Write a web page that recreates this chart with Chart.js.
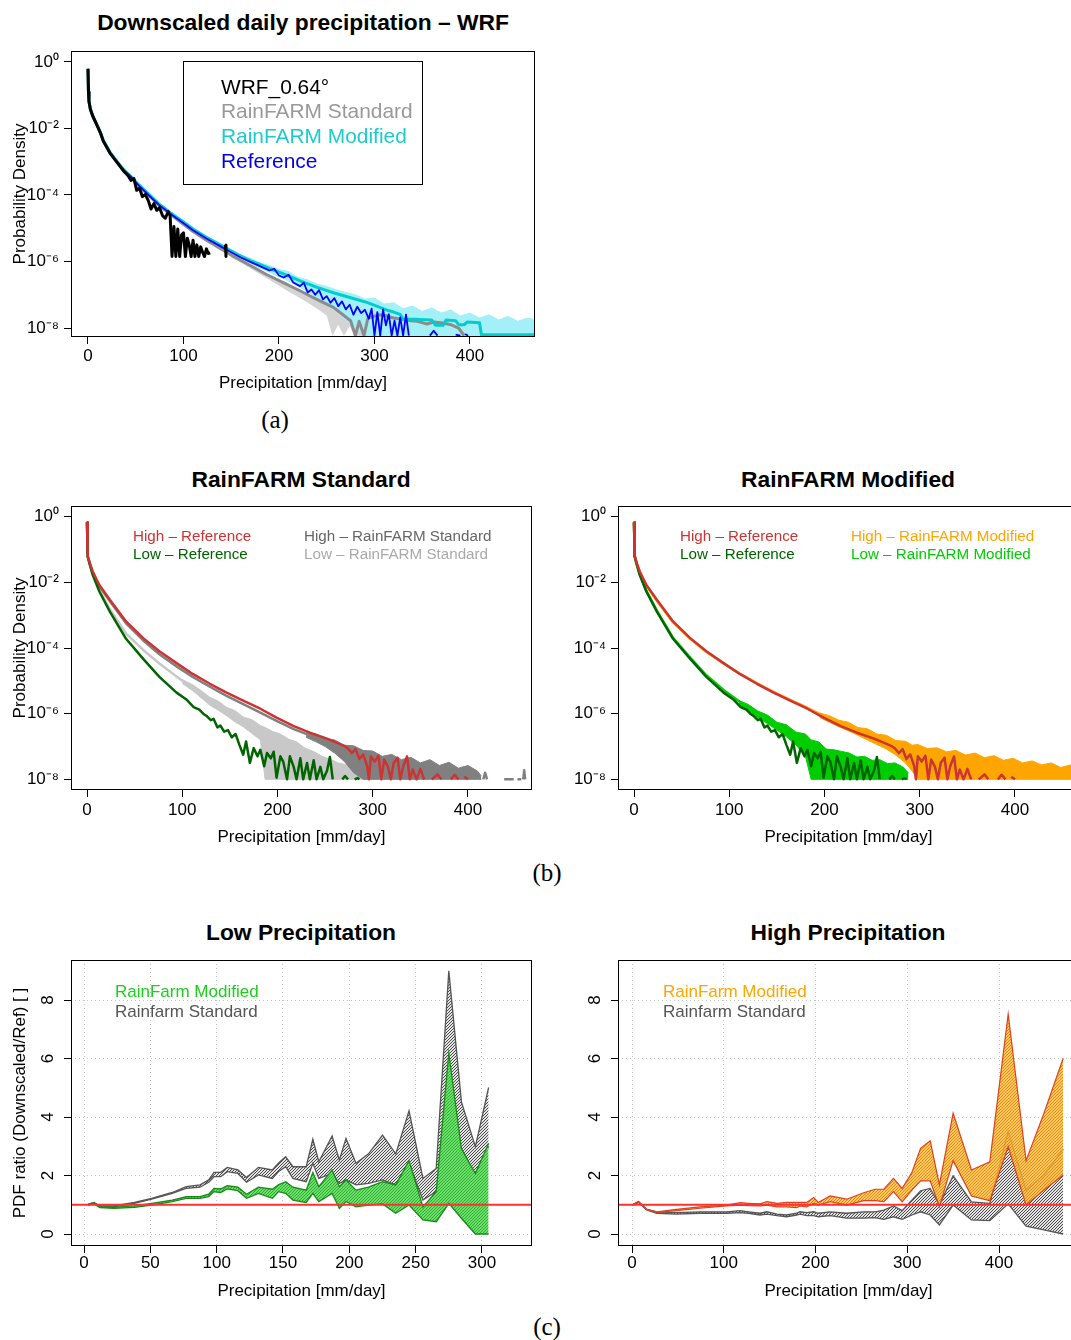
<!DOCTYPE html>
<html><head><meta charset="utf-8">
<script src="https://cdn.jsdelivr.net/npm/chart.js@4.4.1/dist/chart.umd.min.js"></script>
<style>
html,body{margin:0;padding:0;width:1071px;height:1340px;overflow:hidden;background:#fff;font-family:"Liberation Sans",Arial,sans-serif;}
canvas{position:absolute;}
.c{position:absolute;white-space:nowrap;transform:translate(-50%,-50%);}
.l{position:absolute;white-space:nowrap;transform:translateY(-50%);}
.ttl{font-weight:bold;font-size:22.8px;}
.cap{font-family:"Liberation Serif",serif;font-size:25px;}
.lg20{font-size:20.9px;} .lg15{font-size:15.2px;} .lg17{font-size:17px;}
#abox{position:absolute;left:183px;top:61px;width:238px;height:122px;border:1px solid #000;}
</style></head><body>
<canvas id="pa"></canvas><canvas id="pbl"></canvas><canvas id="pbr"></canvas><canvas id="pcl"></canvas><canvas id="pcr"></canvas>

<div class="c ttl" style="left:303px;top:22px">Downscaled daily precipitation – WRF</div>
<div id="abox"></div>
<div class="l lg20" style="left:221px;top:87px;color:#000">WRF_0.64°</div>
<div class="l lg20" style="left:221px;top:111px;color:#999">RainFARM Standard</div>
<div class="l lg20" style="left:221px;top:136px;color:#1ccccc">RainFARM Modified</div>
<div class="l lg20" style="left:221px;top:161px;color:#0000ee">Reference</div>
<div class="c cap" style="left:275px;top:420px">(a)</div>

<div class="c ttl" style="left:301px;top:479px">RainFARM Standard</div>
<div class="c ttl" style="left:848px;top:479px">RainFARM Modified</div>
<div class="l lg15" style="left:133px;top:535px;color:#cd3333">High – Reference</div>
<div class="l lg15" style="left:133px;top:553px;color:#006400">Low – Reference</div>
<div class="l lg15" style="left:304px;top:535px;color:#666">High – RainFARM Standard</div>
<div class="l lg15" style="left:304px;top:553px;color:#aaa">Low – RainFARM Standard</div>
<div class="l lg15" style="left:680px;top:535px;color:#cd3333">High – Reference</div>
<div class="l lg15" style="left:680px;top:553px;color:#006400">Low – Reference</div>
<div class="l lg15" style="left:851px;top:535px;color:#ffa500">High – RainFARM Modified</div>
<div class="l lg15" style="left:851px;top:553px;color:#00cd00">Low – RainFARM Modified</div>
<div class="c cap" style="left:547px;top:873px">(b)</div>

<div class="c ttl" style="left:301px;top:932px">Low Precipitation</div>
<div class="c ttl" style="left:848px;top:932px">High Precipitation</div>
<div class="l lg17" style="left:115px;top:992px;color:#1ccf1c">RainFarm Modified</div>
<div class="l lg17" style="left:115px;top:1012px;color:#555">Rainfarm Standard</div>
<div class="l lg17" style="left:663px;top:992px;color:#ffa500">RainFarm Modified</div>
<div class="l lg17" style="left:663px;top:1012px;color:#555">Rainfarm Standard</div>
<div class="c cap" style="left:547px;top:1327px">(c)</div>

<script>
// ---- panel (a): [mm/day, log10 density] ----
const aWrf = [[0,-0.2],[0.5,-0.9],[1,-1.18],[2.5,-1.42],[5,-1.63],[9,-1.88],[13,-2.13],[16,-2.38],[23,-2.74],[31,-3.04],[38,-3.3],[42,-3.42],[45,-3.56],[48,-3.5],[51,-3.86],[54,-3.8],[57,-4.05],[60,-3.98],[63,-4.16],[66,-4.42],[69,-4.26],[72,-4.46],[75,-4.38],[78,-4.62],[81,-4.7],[84,-4.5],[86,-4.62],[88,-5.85],[90,-4.95],[92,-5.85],[94,-5.02],[96,-5.85],[98,-5.2],[100,-5.14],[102,-5.85],[104,-5.3],[106,-5.5],[108,-5.85],[110,-5.36],[112,-5.85],[114,-5.5],[116,-5.85],[118,-5.56],[120,-5.72],[122,-5.85],[124,-5.62],[126,-5.76],[128,-5.74],[130,null],[144,-5.5],[144.5,-5.85]];
const aRef = [[0,-0.22],[0.5,-0.9],[1,-1.18],[2.5,-1.42],[5,-1.63],[9,-1.88],[13,-2.13],[16,-2.36],[23,-2.72],[31,-3.03],[38,-3.27],[45,-3.45],[52,-3.68],[63,-3.99],[74,-4.29],[88,-4.6],[99,-4.83],[110,-5.06],[124,-5.31],[138,-5.53],[146,-5.66],[160,-5.88],[170,-6.01],[180,-6.14],[190,-6.27],[195,-6.22],[200,-6.42],[205,-6.48],[210,-6.4],[215,-6.63],[222,-6.74],[226,-6.64],[230,-6.93],[234,-6.84],[238,-7.0],[242,-6.86],[246,-7.14],[250,-7.04],[254,-7.24],[258,-7.1],[262,-7.34],[266,-7.2],[270,-7.44],[274,-7.3],[278,-7.6],[282,-7.36],[286,-7.55],[290,-7.45],[294,-7.72],[297,-7.42],[300,-8.23],[303,-7.52],[306,-8.23],[309,-7.44],[312,-7.92],[315,-7.58],[318,-8.23],[321,-7.78],[324,-8.23],[327,-7.68],[330,-8.23],[333,-7.6],[336,-8.23],[340,null],[358,-8.23],[362,-8.08],[366,-8.23],[370,null],[385,-8.2],[390,-8.23],[392,null],[395,-8.18],[398,-8.23]];
const aMod = [[0,-0.22],[0.5,-0.9],[1,-1.18],[2.5,-1.42],[5,-1.62],[9,-1.87],[13,-2.12],[16,-2.35],[23,-2.71],[31,-3.01],[38,-3.26],[45,-3.45],[52,-3.66],[63,-3.96],[74,-4.26],[88,-4.57],[99,-4.79],[110,-5.02],[124,-5.27],[138,-5.49],[146,-5.62],[160,-5.84],[170,-5.97],[180,-6.09],[190,-6.21],[200,-6.32],[210,-6.43],[222,-6.58],[240,-6.78],[257,-6.94],[275,-7.09],[292,-7.23],[303,-7.35],[313,-7.46],[320,-7.52],[327,-7.59],[330,-7.74],[345,-7.74],[360,-7.76],[364,-7.92],[372,-7.92],[375,-7.76],[385,-7.78],[388,-7.9],[394,-7.9],[397,-7.82],[410,-7.84],[412,-8.2],[470,-8.2]];
// noise envelopes [mm/day, low, high]
const aModBand = [[160,-5.9,-5.8],[170,-6.05,-5.9],[180,-6.2,-6.04],[190,-6.32,-6.12],[200,-6.45,-6.24],[210,-6.58,-6.3],[220,-6.75,-6.48],[230,-6.9,-6.55],[240,-7.1,-6.68],[250,-7.3,-6.75],[260,-7.5,-6.85],[270,-7.75,-6.93],[280,-8.0,-7.0],[290,-8.23,-7.13],[300,-8.23,-7.1],[310,-8.23,-7.28],[320,-8.23,-7.24],[330,-8.23,-7.42],[340,-8.23,-7.34],[350,-8.23,-7.5],[360,-8.23,-7.4],[370,-8.23,-7.55],[380,-8.23,-7.46],[390,-8.23,-7.64],[400,-8.23,-7.55],[410,-8.23,-7.7],[420,-8.23,-7.6],[430,-8.23,-7.76],[440,-8.23,-7.65],[450,-8.23,-7.8],[460,-8.23,-7.7],[470,-8.23,-7.76]];
const aStd = [[0,-0.22],[0.5,-0.9],[1,-1.18],[2.5,-1.42],[5,-1.63],[9,-1.88],[13,-2.13],[16,-2.37],[23,-2.73],[31,-3.03],[38,-3.28],[45,-3.47],[52,-3.69],[63,-4.0],[74,-4.3],[88,-4.62],[99,-4.86],[110,-5.1],[124,-5.36],[138,-5.6],[152,-5.84],[170,-6.12],[187,-6.39],[205,-6.64],[222,-6.88],[239,-7.13],[257,-7.38],[267,-7.6],[275,-7.78],[280,-8.23],[284,-7.8],[289,-8.23],[293,-7.72],[298,-7.66],[305,-7.6],[312,-7.63],[320,-7.7],[330,-7.74],[338,-7.78],[345,-7.8],[355,-7.88],[362,-7.82],[372,-7.85],[380,-7.9],[388,-8.0],[394,-8.23]];
const aStdBand = [[150,-5.88,-5.8],[165,-6.12,-6.04],[180,-6.38,-6.28],[195,-6.64,-6.5],[210,-6.9,-6.72],[225,-7.15,-6.94],[240,-7.42,-7.16],[250,-7.62,-7.3],[256,-8.23,-7.4],[262,-7.9,-7.5],[268,-8.23,-7.62],[274,-7.95,-7.72],[280,-8.23,-7.8],[290,-8.23,-7.86],[300,-8.23,-7.92]];

// ---- panel (b): [mm/day, log10 density] ----
const bHighRef = [[0,-0.18],[0.5,-0.9],[1,-1.2],[3,-1.42],[6,-1.67],[13,-2.08],[24,-2.53],[41,-3.19],[59,-3.7],[76,-4.1],[94,-4.46],[111,-4.79],[129,-5.09],[146,-5.35],[164,-5.6],[182,-5.85],[199,-6.12],[217,-6.38],[234,-6.58],[252,-6.76],[262,-6.88],[270,-6.98],[274,-7.06],[278,-7.2],[282,-7.08],[286,-7.38],[290,-7.24],[294,-7.58],[296,-8],[298,-7.3],[302,-7.46],[306,-7.28],[309,-8],[312,-7.4],[316,-7.62],[319,-8],[322,-7.5],[326,-7.34],[329,-8],[332,-7.6],[336,-7.3],[339,-8],[342,-7.7],[346,-8],[350,-7.68],[354,-8],[358,null],[362,-8],[368,-7.85],[372,-8],[376,null],[382,-8],[386,-7.86],[390,-8],[393,null],[396,-7.92],[400,-8]];
const bLowRef = [[0,-0.18],[0.5,-0.9],[1,-1.22],[3,-1.47],[6,-1.77],[13,-2.28],[24,-2.89],[41,-3.72],[59,-4.33],[76,-4.88],[94,-5.36],[104,-5.56],[112,-5.8],[118,-5.88],[122,-6.0],[126,-6.08],[130,-6.2],[133,-6.16],[137,-6.42],[140,-6.36],[144,-6.55],[148,-6.5],[152,-6.72],[156,-6.62],[160,-6.95],[164,-7.25],[167,-6.85],[171,-7.5],[175,-7.05],[179,-7.3],[182,-7.1],[186,-7.6],[189,-7.2],[193,-7.36],[196,-7.16],[199,-7.95],[203,-7.3],[206,-7.46],[210,-8],[213,-7.3],[217,-7.62],[220,-8],[224,-7.36],[227,-8],[231,-7.5],[234,-8],[238,-7.42],[241,-8],[245,-7.62],[248,-8],[252,-7.74],[255,-7.32],[258,-8],[262,null],[268,-8],[271,-7.9],[274,-8],[277,null],[281,-8],[284,-7.96],[286,-8]];
const bHighStd = [[0,-0.18],[0.5,-0.9],[1,-1.2],[3,-1.43],[6,-1.69],[13,-2.12],[24,-2.58],[41,-3.25],[59,-3.77],[76,-4.19],[94,-4.56],[111,-4.88],[129,-5.18],[146,-5.45],[164,-5.71],[182,-5.97],[199,-6.22],[217,-6.47],[234,-6.66],[252,-6.85],[270,-7.02],[278,-7.1],[282,null],[416,-8],[418,-7.8],[420,-8],[422,null],[438,-8],[448,-8],[450,null],[452,-8],[456,-8],[457,null],[458,-8],[459,-7.72],[460,-8]];
const bHighStdBand = [[230,-6.72,-6.58],[240,-6.85,-6.62],[250,-7.0,-6.76],[260,-7.2,-6.8],[270,-7.45,-6.96],[280,-7.8,-6.98],[290,-8,-7.12],[300,-8,-7.14],[310,-8,-7.3],[320,-8,-7.24],[330,-8,-7.4],[340,-8,-7.33],[350,-8,-7.5],[360,-8,-7.4],[370,-8,-7.58],[380,-8,-7.48],[390,-8,-7.66],[400,-8,-7.58],[410,-8,-7.75],[414,-8,-7.9]];
const bLowStd = [[0,-0.18],[0.5,-0.9],[1,-1.22],[3,-1.46],[6,-1.75],[13,-2.24],[24,-2.82],[41,-3.56],[59,-4.06],[76,-4.47],[94,-4.87],[105,-5.1]];
const bLowStdBand = [[100,-5.08,-4.96],[111,-5.3,-5.12],[120,-5.52,-5.3],[129,-5.74,-5.5],[138,-5.9,-5.62],[146,-6.05,-5.8],[155,-6.24,-5.9],[164,-6.4,-6.1],[173,-6.6,-6.18],[182,-6.8,-6.36],[187,-8,-6.42],[195,-8,-6.54],[203,-8,-6.62],[212,-8,-6.78],[220,-8,-6.86],[229,-8,-7.05],[238,-8,-7.15],[247,-8,-7.3],[255,-8,-7.38],[264,-8,-7.5],[273,-8,-7.56],[282,-8,-7.7],[290,-8,-7.78],[296,-8,-7.92]];
const bHighMod = [[0,-0.18],[0.5,-0.9],[1,-1.2],[3,-1.42],[6,-1.68],[13,-2.1],[24,-2.56],[41,-3.22],[59,-3.72],[76,-4.12],[94,-4.47],[111,-4.78],[129,-5.07],[146,-5.33],[164,-5.58],[182,-5.82],[199,-6.07],[210,-6.2]];
const bHighModBand = [[195,-6.12,-5.98],[205,-6.26,-6.06],[215,-6.4,-6.2],[225,-6.52,-6.26],[235,-6.66,-6.42],[245,-6.8,-6.46],[255,-6.94,-6.62],[265,-7.08,-6.66],[275,-7.26,-6.82],[285,-7.5,-6.84],[292,-7.75,-6.96],[298,-8,-6.94],[308,-8,-7.06],[318,-8,-7.04],[328,-8,-7.16],[338,-8,-7.12],[348,-8,-7.26],[358,-8,-7.2],[368,-8,-7.34],[378,-8,-7.28],[388,-8,-7.42],[398,-8,-7.36],[408,-8,-7.5],[418,-8,-7.44],[428,-8,-7.56],[438,-8,-7.5],[448,-8,-7.64],[458,-8,-7.56],[468,-8,-7.66],[478,-8,-7.6]];
const bLowMod = [[0,-0.18],[0.5,-0.9],[1,-1.22],[3,-1.46],[6,-1.76],[13,-2.26],[24,-2.86],[41,-3.69],[59,-4.29],[76,-4.83],[94,-5.28],[111,-5.64],[118,-5.76]];
const bLowModBand = [[110,-5.72,-5.6],[120,-5.9,-5.72],[130,-6.12,-5.92],[140,-6.3,-6.04],[150,-6.5,-6.26],[160,-6.7,-6.34],[170,-6.95,-6.56],[180,-7.3,-6.62],[186,-8,-6.8],[194,-8,-6.86],[202,-8,-7.08],[210,-8,-7.1],[218,-8,-7.15],[226,-8,-7.2],[234,-8,-7.32],[242,-8,-7.3],[250,-8,-7.42],[258,-8,-7.4],[266,-8,-7.52],[274,-8,-7.5],[282,-8,-7.62],[288,-8,-7.8]];

// ---- panel (c): PDF ratio bands ----
const cLowX     = [3,7.5,12,22.5,38,51,66.5,77,87.5,94,98,103,108,116,122.5,131.5,142,146.5,152,157.5,167.5,172.5,177,187,192.5,197.5,205,214.5,225,235,245,255.5,265.5,275,284.5,295,305];
const cLowStdHi = [1.01,1.08,0.96,0.96,1.08,1.22,1.42,1.62,1.68,1.85,2.11,2.11,2.28,2.19,1.93,2.28,2.19,2.42,2.64,2.30,2.30,3.24,2.47,3.35,2.53,3.27,2.42,2.74,3.38,2.74,4.21,1.90,2.24,9.00,4.52,2.99,5.01];
const cLowStdLo = [0.99,1.05,0.93,0.93,1.05,1.19,1.39,1.56,1.60,1.77,1.96,1.96,2.13,2.07,1.77,2.02,1.90,2.13,2.30,1.90,1.79,2.42,1.90,2.07,1.73,1.85,1.68,1.73,1.85,1.68,2.42,1.16,1.45,2.99,2.53,2.07,2.99];
const cLowModHi = [1.01,1.07,0.93,0.91,0.96,1.05,1.16,1.28,1.28,1.36,1.56,1.54,1.65,1.60,1.36,1.60,1.53,1.68,1.79,1.60,1.50,2.10,1.62,2.19,1.62,1.85,1.50,1.60,1.79,1.68,2.51,0.93,1.45,6.18,2.91,2.07,3.10];
const cLowModLo = [0.99,1.03,0.90,0.88,0.91,0.99,1.11,1.22,1.22,1.28,1.45,1.42,1.54,1.48,1.22,1.39,1.22,1.45,1.39,1.16,1.08,1.39,1.11,1.39,0.88,1.11,0.93,0.99,1.03,0.71,0.99,0.48,0.42,1.05,0.54,0,0];
const cHighX     = [0,7,16,27,48.5,74,103,118,127,139.5,147,158,168.5,179.5,183,190.5,198,203,216,234,252.5,265,274.5,285,294.5,305,314.5,325,335,350,370,390,410,429.5,449,470];
const cHighModHi = [0.99,1.11,0.84,0.76,0.84,0.93,0.99,1.07,1.05,1.03,1.11,1.05,1.08,1.08,1.08,1.08,1.25,1.08,1.30,1.19,1.41,1.53,1.53,1.90,1.56,2.10,2.93,3.19,1.68,4.13,2.19,2.47,7.52,2.51,4.13,6.01];
const cHighModLo = [0.99,1.11,0.84,0.74,0.80,0.88,0.96,0.99,0.97,0.96,0.99,0.93,0.93,0.90,0.96,0.93,1.05,0.99,1.11,0.99,1.14,1.14,1.11,1.45,1.10,1.50,1.82,1.82,0.93,2.51,1.30,1.14,2.99,0.99,1.50,2.02];
const cHighStdHi = [0.99,1.10,0.84,0.76,0.73,0.76,0.76,0.80,0.76,0.71,0.76,0.68,0.65,0.71,0.76,0.73,0.76,0.71,0.76,0.71,0.76,0.76,0.82,0.96,0.80,1.16,1.48,1.56,0.99,1.99,1.10,1.05,3.50,1.50,2.02,2.90];
const cHighStdLo = [0.99,1.08,0.82,0.71,0.68,0.71,0.71,0.73,0.71,0.65,0.68,0.63,0.59,0.65,0.68,0.63,0.63,0.59,0.63,0.54,0.54,0.56,0.50,0.59,0.50,0.65,0.76,0.65,0.31,0.99,0.48,0.46,1.03,0.27,0.14,0];
const ratioRef = [1];

const logTicks = [1, 1e-2, 1e-4, 1e-6, 1e-8];
const precipTicks = [0, 100, 200, 300, 400];
const lowPrecipTicks = [0, 50, 100, 150, 200, 250, 300];
const ratioTicks = [0, 2, 4, 6, 8];

const FONT = '"Liberation Sans", Arial, sans-serif';
const FS = 17, LH = FS * 1.2;
const PAD_L = 75, PAD_T = 5, PAD_R = 5, PAD_B = 65;
const SUP = {'0':'⁰','1':'¹','2':'²','3':'³','4':'⁴','5':'⁵','6':'⁶','7':'⁷','8':'⁸','9':'⁹','-':'⁻'};

function pts(arr){ return arr.map(p => ({x:p[0], y: p[1]==null ? null : Math.pow(10,p[1])})); }
function env(arr, k){ return arr.map(p => ({x:p[0], y: Math.pow(10,p[k])})); }
function xy(xs, ys){ return xs.map((x,i) => ({x, y: ys[i]})); }

function line(data, color, w, order){
  return {data, borderColor:color, borderWidth:w, pointRadius:0, fill:false, tension:0, order, spanGaps:false, borderJoinStyle:'round'};
}
function band(lo, hi, fillCol, edge, edgeW, order){
  return [
    {data:lo, borderColor:edge, borderWidth:edgeW, pointRadius:0, fill:false, tension:0, order},
    {data:hi, borderColor:edge, borderWidth:edgeW, pointRadius:0, fill:'-1', backgroundColor:fillCol, tension:0, order}
  ];
}
function hatch(bg, fg, gap){
  const c = document.createElement('canvas'); c.width = c.height = gap;
  const g = c.getContext('2d');
  g.fillStyle = bg; g.fillRect(0,0,gap,gap);
  g.strokeStyle = fg; g.lineWidth = 1;
  g.beginPath();
  g.moveTo(0,gap); g.lineTo(gap,0);
  g.moveTo(-1,1); g.lineTo(1,-1);
  g.moveTo(gap-1,gap+1); g.lineTo(gap+1,gap-1);
  g.stroke();
  return g.createPattern(c,'repeat');
}

const boxPlugin = { id:'box', afterDraw(chart){
  const a = chart.chartArea, c = chart.ctx;
  c.save(); c.strokeStyle = '#000'; c.lineWidth = 1;
  c.strokeRect(Math.round(a.left)+0.5, Math.round(a.top)+0.5, Math.round(a.right-a.left)-1, Math.round(a.bottom-a.top)-1);
  c.restore();
}};

function fixSize(s, prop, v){
  s[prop] = v;
  s.paddingTop = 0; s.paddingBottom = 0; s.paddingLeft = 0; s.paddingRight = 0;
}

function panel(id, box, o){
  const cv = document.getElementById(id);
  const w = box.r - box.l + PAD_L + PAD_R, h = box.b - box.t + PAD_T + PAD_B;
  cv.width = w; cv.height = h;
  cv.style.left = (box.l - PAD_L) + 'px'; cv.style.top = (box.t - PAD_T) + 'px';
  const tickFont = {family:FONT, size:FS};
  const grid = o.dotted
    ? {display:true, drawOnChartArea:true, drawTicks:true, tickLength:7, color:'#c4c4c4', tickColor:'#000', lineWidth:1}
    : {display:true, drawOnChartArea:false, drawTicks:true, tickLength:7, color:'#000', lineWidth:1};
  const yTicks = o.log
    ? {font:tickFont, color:'#000', padding:5, callback: v => '10' + String(Math.round(Math.log10(v))).split('').map(ch => SUP[ch]).join('')}
    : {font:tickFont, color:'#000', padding:11, minRotation:90, maxRotation:90, crossAlign:'center'};
  const y = {
    type: o.log ? 'logarithmic' : 'linear', min:o.yMin, max:o.yMax,
    afterBuildTicks: s => { s.ticks = o.yTicks.map(v => ({value:v})); },
    afterFit: s => fixSize(s, 'width', PAD_L),
    grid, border:{display:false, dash: o.dotted ? [1,3] : []}, ticks:yTicks,
    title:{display: !!o.yTitle, text:o.yTitle || '', color:'#000', font:{family:FONT, size:FS},
           padding:{top: 20 - (box.l - PAD_L) - LH/2, bottom:0}}
  };
  const x = {
    type:'linear', min:o.xMin, max:o.xMax,
    afterBuildTicks: s => { s.ticks = o.xTicks.map(v => ({value:v})); },
    afterFit: s => fixSize(s, 'height', PAD_B),
    grid, border:{display:false, dash: o.dotted ? [1,3] : []},
    ticks:{font:tickFont, color:'#000', padding:o.xPad, maxRotation:0, autoSkip:false},
    title:{display:true, text:'Precipitation [mm/day]', color:'#000', font:{family:FONT, size:FS},
           padding:{top:0, bottom: PAD_B - o.xTitleOff - LH/2}}
  };
  return new Chart(cv, {
    type:'line',
    data:{datasets:o.datasets},
    options:{
      responsive:false, animation:false, events:[],
      layout:{padding:{left:0, top:PAD_T, right:PAD_R, bottom:0}, autoPadding:false},
      plugins:{legend:{display:false}, tooltip:{enabled:false}},
      scales:{x, y}
    },
    plugins:[boxPlugin]
  });
}

// (a)
panel('pa', {l:71, t:51, r:535, b:337}, {
  log:true, yMin:Math.pow(10,-8.27), yMax:Math.pow(10,0.33), yTicks:logTicks,
  xMin:-17.8, xMax:468.1, xTicks:precipTicks, xPad:2, xTitleOff:46, yTitle:'Probability Density',
  datasets:[
    ...band(env(aStdBand,1), env(aStdBand,2), '#d4d4d4', '#d4d4d4', 0, 10),
    ...band(env(aModBand,1), env(aModBand,2), '#a4f0f8', '#a4f0f8', 1, 9),
    line(pts(aStd), '#8c8c8c', 3, 5),
    line(pts(aMod), '#00cdcd', 3, 4),
    line(pts(aRef), '#0000ff', 1.8, 3),
    line(pts(aWrf), '#000000', 3, 2)
  ]
});

// (b) left
panel('pbl', {l:71, t:506, r:532, b:790}, {
  log:true, yMin:Math.pow(10,-8.325), yMax:Math.pow(10,0.325), yTicks:logTicks,
  xMin:-16.8, xMax:467.2, xTicks:precipTicks, xPad:3, xTitleOff:47, yTitle:'Probability Density',
  datasets:[
    ...band(env(bLowStdBand,1), env(bLowStdBand,2), '#c8c8c8', '#c8c8c8', 1, 12),
    line(pts(bLowStd), '#c8c8c8', 2.5, 11),
    ...band(env(bHighStdBand,1), env(bHighStdBand,2), '#808080', '#808080', 1, 8),
    line(pts(bHighStd), '#808080', 2.5, 7),
    line(pts(bLowRef), '#006400', 2.5, 3),
    line(pts(bHighRef), '#cd3333', 2.5, 2)
  ]
});

// (b) right
panel('pbr', {l:618, t:506, r:1079, b:790}, {
  log:true, yMin:Math.pow(10,-8.325), yMax:Math.pow(10,0.325), yTicks:logTicks,
  xMin:-16.8, xMax:467.2, xTicks:precipTicks, xPad:3, xTitleOff:47,
  datasets:[
    ...band(env(bHighModBand,1), env(bHighModBand,2), '#ffa500', '#ffa500', 1, 12),
    line(pts(bHighMod), '#ffa500', 2.5, 11),
    ...band(env(bLowModBand,1), env(bLowModBand,2), '#00cd00', '#00cd00', 1, 8),
    line(pts(bLowMod), '#00cd00', 2.5, 7),
    line(pts(bLowRef), '#006400', 2.5, 3),
    line(pts(bHighRef), '#cd3333', 2.5, 2)
  ]
});

// (c) left
panel('pcl', {l:71, t:960, r:532, b:1246}, {
  dotted:true, yMin:-0.41, yMax:9.37, yTicks:ratioTicks,
  xMin:-9.8, xMax:337.7, xTicks:lowPrecipTicks, xPad:0, xTitleOff:45, yTitle:'PDF ratio (Downscaled/Ref) [ ]',
  datasets:[
    ...band(xy(cLowX,cLowStdLo), xy(cLowX,cLowStdHi), hatch('#e4e4e4','#4a4a4a',3), '#555555', 1.3, 10),
    ...band(xy(cLowX,cLowModLo), xy(cLowX,cLowModHi), hatch('#6ede6e','#2cb02c',3), '#188a18', 1.3, 8),
    line(ratioRef.map(v => ({x:-9.8, y:v})).concat(ratioRef.map(v => ({x:337.7, y:v}))), '#ff3030', 2, 1)
  ]
});

// (c) right
panel('pcr', {l:618, t:960, r:1079, b:1246}, {
  dotted:true, yMin:-0.41, yMax:9.37, yTicks:ratioTicks,
  xMin:-15.3, xMax:487.2, xTicks:precipTicks, xPad:0, xTitleOff:45,
  datasets:[
    ...band(xy(cHighX,cHighStdLo), xy(cHighX,cHighStdHi), hatch('#e4e4e4','#4a4a4a',3), '#555555', 1.3, 10),
    ...band(xy(cHighX,cHighModLo), xy(cHighX,cHighModHi), hatch('rgba(255,185,60,0.8)','rgba(220,135,0,0.85)',3), '#e0401e', 1.2, 8),
    line(ratioRef.map(v => ({x:-15.3, y:v})).concat(ratioRef.map(v => ({x:487.2, y:v}))), '#ff3030', 2, 1)
  ]
});
</script>
</body></html>
